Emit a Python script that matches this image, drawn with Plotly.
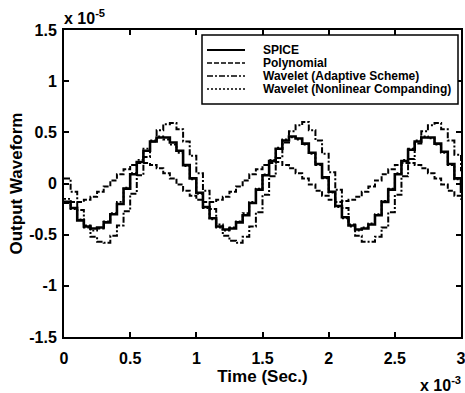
import plotly.graph_objects as go

# Time axis in units of 1e-3 s
time = [0.00, 0.05, 0.10, 0.15, 0.20, 0.25, 0.30, 0.35, 0.40, 0.45,
        0.50, 0.55, 0.60, 0.65, 0.70, 0.75, 0.80, 0.85, 0.90, 0.95,
        1.00, 1.05, 1.10, 1.15, 1.20, 1.25, 1.30, 1.35, 1.40, 1.45,
        1.50, 1.55, 1.60, 1.65, 1.70, 1.75, 1.80, 1.85, 1.90, 1.95,
        2.00, 2.05, 2.10, 2.15, 2.20, 2.25, 2.30, 2.35, 2.40, 2.45,
        2.50, 2.55, 2.60, 2.65, 2.70, 2.75, 2.80, 2.85, 2.90, 2.95,
        3.00]

# Output waveforms in units of 1e-5
spice = [-0.18, -0.24, -0.36, -0.42, -0.44, -0.43, -0.38, -0.30, -0.20, -0.05,
         0.09, 0.21, 0.32, 0.41, 0.45, 0.45, 0.40, 0.32, 0.18, 0.05,
         -0.09, -0.23, -0.34, -0.42, -0.45, -0.44, -0.38, -0.31, -0.19, -0.06,
         0.08, 0.22, 0.34, 0.42, 0.46, 0.44, 0.39, 0.30, 0.19, 0.06,
         -0.08, -0.22, -0.33, -0.41, -0.45, -0.44, -0.40, -0.31, -0.18, -0.06,
         0.09, 0.22, 0.33, 0.41, 0.45, 0.45, 0.39, 0.31, 0.19, 0.05,
         -0.09]

polynomial = [-0.19, -0.18, -0.18, -0.16, -0.13, -0.08, -0.03, 0.03, 0.09, 0.14,
              0.18, 0.20, 0.20, 0.18, 0.15, 0.10, 0.05, -0.01, -0.07, -0.12,
              -0.16, -0.18, -0.18, -0.16, -0.13, -0.08, -0.03, 0.03, 0.09, 0.14,
              0.18, 0.20, 0.21, 0.18, 0.15, 0.10, 0.05, -0.01, -0.07, -0.12,
              -0.16, -0.18, -0.17, -0.16, -0.13, -0.08, -0.03, 0.03, 0.09, 0.14,
              0.18, 0.20, 0.20, 0.18, 0.15, 0.10, 0.05, -0.01, -0.07, -0.12,
              -0.16]

wavelet_adaptive = [0.05, -0.08, -0.26, -0.41, -0.52, -0.57, -0.58, -0.51, -0.41, -0.27,
                    -0.10, 0.08, 0.26, 0.41, 0.52, 0.58, 0.59, 0.53, 0.41, 0.27,
                    0.10, -0.07, -0.25, -0.40, -0.51, -0.56, -0.58, -0.52, -0.42, -0.28,
                    -0.11, 0.07, 0.25, 0.40, 0.51, 0.57, 0.60, 0.52, 0.42, 0.29,
                    0.11, -0.06, -0.24, -0.40, -0.51, -0.57, -0.57, -0.52, -0.43, -0.28,
                    -0.11, 0.07, 0.24, 0.39, 0.51, 0.57, 0.59, 0.53, 0.42, 0.28,
                    0.12]

wavelet_companding = [-0.15, -0.25, -0.35, -0.43, -0.46, -0.44, -0.37, -0.29, -0.18, -0.04,
                      0.10, 0.23, 0.34, 0.42, 0.46, 0.43, 0.38, 0.30, 0.17, 0.04,
                      -0.10, -0.24, -0.35, -0.43, -0.46, -0.43, -0.37, -0.29, -0.18, -0.05,
                      0.09, 0.23, 0.35, 0.43, 0.45, 0.43, 0.38, 0.29, 0.18, 0.05,
                      -0.09, -0.23, -0.34, -0.42, -0.46, -0.43, -0.39, -0.30, -0.17, -0.05,
                      0.10, 0.23, 0.34, 0.42, 0.46, 0.44, 0.38, 0.30, 0.18, 0.04,
                      -0.10]

series_names = ["SPICE", "Polynomial", "Wavelet (Adaptive Scheme)",
                "Wavelet (Nonlinear Companding)"]
tick_vals_y = [-1.5, -1, -0.5, 0, 0.5, 1, 1.5]
tick_text_y = ["-1.5", "-1", "-0.5", "0", "0.5", "1", "1.5"]
tick_vals_x = [0, 0.5, 1, 1.5, 2, 2.5, 3]
tick_text_x = ["0", "0.5", "1", "1.5", "2", "2.5", "3"]

styles = [
    dict(width=2.6, dash="solid"),
    dict(width=2.0, dash="5px,2px"),
    dict(width=2.0, dash="6px,2px,2px,2px"),
    dict(width=1.8, dash="2px,2px"),
]
data = [spice, polynomial, wavelet_adaptive, wavelet_companding]

fig = go.Figure()
order = [3, 1, 2, 0]
for i in order:
    fig.add_trace(go.Scatter(
        x=time, y=data[i], mode="lines", name=series_names[i],
        line=dict(color="black", shape="hv", **styles[i]),
        showlegend=False, hoverinfo="skip",
    ))

L, R, T, B = 64, 4, 30, 56
W, H = 465, 393
pw, ph = W - L - R, H - T - B

def px(x):
    return (x - L) / pw

def py(y):
    return (H - B - y) / ph

FONT = "Liberation Sans, Arial"
axis_common = dict(
    showline=True, linecolor="black", linewidth=2, mirror="ticks",
    ticks="inside", ticklen=5, tickwidth=1.5, tickcolor="black",
    showgrid=False, zeroline=False, automargin=False,
    ticklabeloverflow="allow",
    tickfont=dict(family=FONT, size=16, color="black", weight="bold"),
)

fig.update_layout(
    width=W, height=H,
    margin=dict(l=L, r=R, t=T, b=B),
    paper_bgcolor="white", plot_bgcolor="white",
    xaxis=dict(range=[0, 3], tickvals=tick_vals_x, ticktext=tick_text_x,
               ticklabelstandoff=6,
               title=dict(text="Time (Sec.)", standoff=0,
                          font=dict(family=FONT, size=17, color="black", weight="bold")),
               **axis_common),
    yaxis=dict(range=[-1.5, 1.5], tickvals=tick_vals_y, ticktext=tick_text_y,
               ticklabelstandoff=2,
               title=dict(text="Output Waveform", standoff=2,
                          font=dict(family=FONT, size=17, color="black", weight="bold")),
               **axis_common),
    showlegend=False,
)

# exponent labels
fig.add_annotation(x=px(62), y=py(29), xref="paper", yref="paper",
                   xanchor="left", yanchor="bottom", showarrow=False,
                   text="x 10<sup>-5</sup>",
                   font=dict(family=FONT, size=16, color="black", weight="bold"))
fig.add_annotation(x=px(463), y=py(372), xref="paper", yref="paper",
                   xanchor="right", yanchor="top", showarrow=False,
                   text="x 10<sup>-3</sup>",
                   font=dict(family=FONT, size=16, color="black", weight="bold"))

# legend box
fig.add_shape(type="rect", xref="paper", yref="paper",
              x0=px(202), x1=px(458), y0=py(104), y1=py(35),
              line=dict(color="black", width=1.5), fillcolor="white", layer="above")
rows = [50, 63, 76, 89]
for i, yy in enumerate(rows):
    fig.add_shape(type="line", xref="paper", yref="paper",
                  x0=px(207), x1=px(245), y0=py(yy), y1=py(yy),
                  line=dict(color="black", width=styles[i]["width"] * 0.7,
                            dash=styles[i]["dash"]), layer="above")
    fig.add_annotation(x=px(261), y=py(yy), xref="paper", yref="paper",
                       xanchor="left", yanchor="middle", showarrow=False,
                       text=series_names[i],
                       font=dict(family=FONT, size=12, color="black", weight="bold"))

fig.write_html("out.html", config={"displayModeBar": False},
               post_script="document.body.style.margin='0';document.body.style.overflow='hidden';")
